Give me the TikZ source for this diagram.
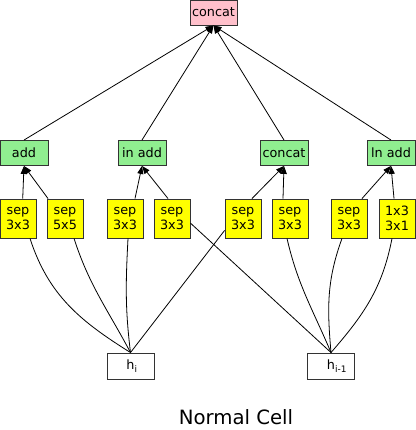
\documentclass[tikz,border=0pt]{standalone}
\usepackage{fontspec}
\setmainfont{DejaVu Sans}
\usetikzlibrary{arrows.meta}
\definecolor{lgreen}{HTML}{90EE90}
\definecolor{lpink}{HTML}{FFC0CB}
\definecolor{lyellow}{HTML}{FFFF00}

\begin{document}
\begin{tikzpicture}[
    x=1pt, y=1pt,
    box/.style={draw=black!80, line width=0.9pt, inner sep=0pt, font=\fontsize{12.8}{15}\selectfont},
    opbox/.style={box, fill=lgreen, minimum width=48pt, minimum height=25pt},
    convbox/.style={box, fill=lyellow, minimum width=36pt, minimum height=39pt, align=center},
    inbox/.style={box, fill=white, minimum width=47pt, minimum height=26pt},
    arrow/.style={-{Triangle[length=8pt,width=6pt]}, line width=0.8pt},
    link/.style={line width=0.8pt}
]
\useasboundingbox (0,0) rectangle (415,430);

% Output
\node[box, fill=lpink, minimum width=47pt, minimum height=25pt] (out) at (213.5,417.5) {concat};

% Combine ops
\node[opbox] (add) at (24,277) {add};
\node[opbox] (inadd) at (142,277) {in add};
\node[opbox] (cat) at (284,277) {concat};
\node[opbox] (lnadd) at (391,277) {ln add};

% Branch ops
\node[convbox] (s1) at (18,211.5) {sep\\3x3};
\node[convbox] (s2) at (65,211.5) {sep\\5x5};
\node[convbox] (s3) at (125,211.5) {sep\\3x3};
\node[convbox] (s4) at (172,211.5) {sep\\3x3};
\node[convbox] (s5) at (243,211.5) {sep\\3x3};
\node[convbox] (s6) at (290,211.5) {sep\\3x3};
\node[convbox] (s7) at (349,211.5) {sep\\3x3};
\node[convbox] (s8) at (397,211.5) {1x3\\3x1};

% Inputs
\node[inbox] (hi) at (130.5,64) {\hspace*{3pt}h\textsubscript{i}};
\node[inbox] (hprev) at (331,64) {\hspace*{12pt}h\textsubscript{i-1}};

% Caption
\node[font=\fontsize{19.7}{24}\selectfont] (title) at (236,13) {Normal Cell};

% Arrows
\foreach \g in {add,inadd,cat,lnadd}
    \draw[arrow] (\g.north) -- (out.south);
\foreach \s/\dx/\g in {s1/4.7/add, s2/-17/add, s3/10/inadd, s4/-4/inadd,
                       s5/9/cat, s6/-7/cat, s7/13/lnadd, s8/-3/lnadd}
    \draw[arrow] ([xshift=\dx pt]\s.north) -- (\g.south);

% Input links
\draw[link] (hi.north) to[out=148,in=-72] ([xshift=12pt]s1.south);
\draw[link] (hi.north) to[out=118,in=-72] ([xshift=9pt]s2.south);
\draw[link] (hi.north) to[out=97,in=-93] ([xshift=3pt]s3.south);
\draw[link] (hi.north) -- (s5.213);
\draw[link] (hprev.north) -- (s4.-14);
\draw[link] (hprev.north) to[out=113,in=-77] ([xshift=-3pt]s6.south);
\draw[link] (hprev.north) to[out=95,in=-110] ([xshift=-7pt]s7.south);
\draw[link] (hprev.north) to[out=49,in=-101] ([xshift=-5pt]s8.south);
\end{tikzpicture}
\end{document}
